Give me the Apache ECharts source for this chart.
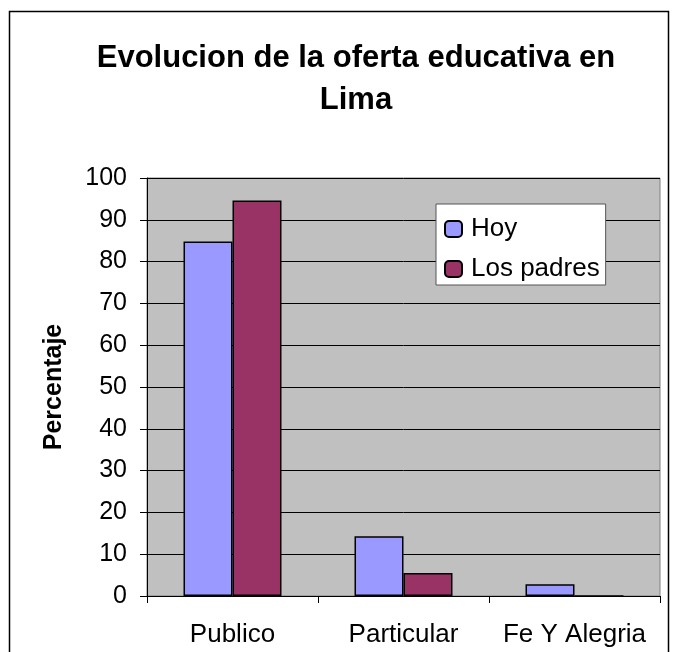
<!DOCTYPE html>
<html>
<head>
<meta charset="utf-8">
<script src="https://cdn.jsdelivr.net/npm/echarts@6/dist/echarts.min.js"></script>
<style>
  html, body { margin: 0; padding: 0; background: #fff; }
  #chart { width: 677px; height: 652px; }
</style>
</head>
<body>
<div id="chart"></div>
<script>
const categories = ['Publico', 'Particular', 'Fe Y Alegria'];
const hoy = [84.8, 14.3, 2.8];
const losPadres = [94.6, 5.5, 0];
const seriesNames = ['Hoy', 'Los padres'];

const chart = echarts.init(document.getElementById('chart'));
const font = 'Liberation Sans, Arial, sans-serif';

chart.setOption({
  animation: false,
  backgroundColor: '#fff',
  textStyle: { fontFamily: font },
  title: {
    text: 'Evolucion de la oferta educativa en\nLima',
    left: 351,
    top: 32,
    textAlign: 'center',
    textStyle: { fontSize: 31, fontWeight: 'bold', color: '#000', lineHeight: 42, fontFamily: font },
  },
  graphic: [
    {
      type: 'rect',
      shape: { x: 9.5, y: 11.5, width: 659, height: 660 },
      style: { fill: 'none', stroke: '#000', lineWidth: 1.5 },
      silent: true,
    },
  ],
  legend: {
    data: seriesNames,
    orient: 'vertical',
    left: 436,
    top: 204,
    padding: [12, 6, 3, 8],
    itemGap: 14,
    itemWidth: 17,
    itemHeight: 16,
    backgroundColor: '#fff',
    borderColor: '#555',
    borderWidth: 1,
    borderRadius: 0,
    textStyle: { fontSize: 26, color: '#000', fontFamily: font, padding: [0, 0, 0, 4] },
  },
  grid: {
    left: 147,
    right: 17,
    top: 178,
    bottom: 56,
    show: true,
    backgroundColor: '#c0c0c0',
    borderColor: '#808080',
    borderWidth: 1,
  },
  xAxis: {
    type: 'category',
    data: categories,
    axisLine: { show: true, lineStyle: { color: '#000', width: 1 } },
    axisTick: { show: true, inside: false, length: 7, alignWithLabel: false, lineStyle: { color: '#000' } },
    axisLabel: { fontSize: 26, color: '#000', margin: 26, fontFamily: font, interval: 0, hideOverlap: false },
  },
  yAxis: {
    type: 'value',
    name: 'Percentaje',
    nameLocation: 'middle',
    nameRotate: 90,
    nameGap: 80,
    nameTextStyle: { fontSize: 25, fontWeight: 'bold', color: '#000', fontFamily: font },
    min: 0,
    max: 100,
    interval: 10,
    axisLine: { show: true, lineStyle: { color: '#000', width: 1 } },
    axisTick: { show: true, length: 7, lineStyle: { color: '#000' } },
    axisLabel: { fontSize: 25, color: '#000', margin: 20, fontFamily: font },
    splitLine: { show: true, lineStyle: { color: '#000', width: 1 } },
  },
  series: [
    {
      name: seriesNames[0],
      type: 'bar',
      data: hoy,
      barGap: '0%',
      barCategoryGap: '42.7%',
      itemStyle: { color: '#9999ff', borderColor: '#000', borderWidth: 1.5 },
    },
    {
      name: seriesNames[1],
      type: 'bar',
      data: losPadres,
      itemStyle: { color: '#993366', borderColor: '#000', borderWidth: 1.5 },
    },
  ],
});
</script>
</body>
</html>
